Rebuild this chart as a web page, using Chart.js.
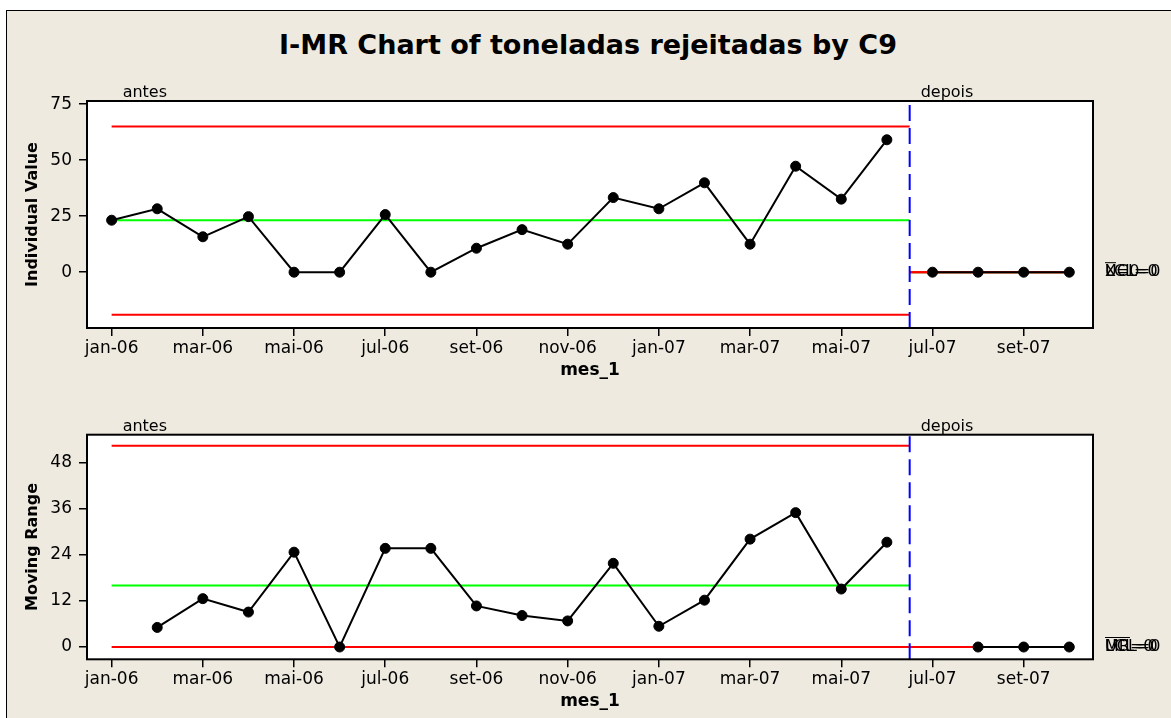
<!DOCTYPE html>
<html>
<head>
<meta charset="utf-8">
<script src="https://cdn.jsdelivr.net/npm/chart.js@4.4.0/dist/chart.umd.min.js"></script>
<style>
  html, body { margin: 0; padding: 0; background: #fff; width: 1171px; height: 718px; overflow: hidden; }
  #frame { position: absolute; left: 6px; top: 10px; width: 1170px; height: 712px; background: #eeeae0; border-left: 1px solid #000; border-top: 1px solid #000; }
  #title { position: absolute; left: 0; top: 29px; width: 1176px; text-align: center; font: bold 27px "DejaVu Sans", sans-serif; line-height: 32px; color: #000; }
  canvas { position: absolute; left: 0; }
  #topChart { top: 60px; }
  #mrChart { top: 400px; }
</style>
</head>
<body>
<div id="frame"></div>
<div id="title">I-MR Chart of toneladas rejeitadas by C9</div>
<canvas id="topChart" width="1171" height="330"></canvas>
<canvas id="mrChart" width="1171" height="318"></canvas>
<script>
// meses (eixo x)
const months = ['jan-06', 'fev-06', 'mar-06', 'abr-06', 'mai-06', 'jun-06', 'jul-06', 'ago-06',
    'set-06', 'out-06', 'nov-06', 'dez-06', 'jan-07', 'fev-07', 'mar-07', 'abr-07', 'mai-07',
    'jun-07', 'jul-07', 'ago-07', 'set-07', 'out-07'];
const tickIndex = [0, 2, 4, 6, 8, 10, 12, 14, 16, 18, 20];

// fases
const phases = ['antes', 'depois'];
const phaseStart = [0, 18];

// valores individuais
const iAntes = [23.2, 28.3, 15.8, 24.8, 0, 0, 25.7, 0, 10.7, 19.0, 12.5, 33.3, 28.3, 39.9, 12.5, 47.3, 32.6, 59.1];
const iDepois = [0, 0, 0, 0];

// amplitude movel
const mrAntes = [5.1, 12.6, 9.1, 24.7, 0, 25.7, 25.7, 10.7, 8.2, 6.8, 21.8, 5.4, 12.2, 28.1, 35.0, 15.1, 27.3];
const mrDepois = [0, 0, 0];

// limites [antes, depois]
const iUCL = [65.0, 0];
const iCL = [23.2, 0];
const iLCL = [-19.0, 0];
const mrUCL = [52.4, 0];
const mrCL = [16.0, 0];
const mrLCL = [0, 0];

const iTicks = [0, 25, 50, 75];
const mrTicks = [0, 12, 24, 36, 48];

Chart.defaults.font.family = "'DejaVu Sans', sans-serif";
Chart.defaults.color = '#000';

const FONT = "'DejaVu Sans', sans-serif";
const splitX = phaseStart[1] - 0.5;
const lastX = months.length - 1;

function seriesSet(values, start) {
    return {
        data: values.map((v, i) => ({ x: start + i, y: v })),
        borderColor: '#000',
        borderWidth: 2,
        pointRadius: 5,
        pointBackgroundColor: '#000',
        pointBorderColor: '#000',
        pointBorderWidth: 1,
        order: 0
    };
}

function limitSet(x0, x1, y, color) {
    return {
        data: [{ x: x0, y: y }, { x: x1, y: y }],
        borderColor: color,
        borderWidth: 2,
        pointRadius: 0,
        order: 2
    };
}

function splitSet(yMin, yMax) {
    return {
        data: [{ x: splitX, y: yMin }, { x: splitX, y: yMax }],
        borderColor: '#0000ff',
        borderWidth: 2,
        borderDash: [16, 7],
        pointRadius: 0,
        order: 1
    };
}

// fundo branco, moldura, rotulos das fases e dos limites
const annotPlugin = {
    id: 'annot',
    beforeDraw(chart) {
        const a = chart.chartArea;
        const ctx = chart.ctx;
        ctx.save();
        ctx.fillStyle = '#fff';
        ctx.fillRect(a.left, a.top, a.right - a.left, a.bottom - a.top);
        ctx.restore();
    },
    afterDraw(chart, args, opts) {
        const a = chart.chartArea;
        const ctx = chart.ctx;
        const xs = chart.scales.x;
        const ys = chart.scales.y;
        ctx.save();
        ctx.strokeStyle = '#000';
        ctx.lineWidth = 2;
        ctx.strokeRect(a.left, a.top, a.right - a.left, a.bottom - a.top);

        ctx.font = '16px ' + FONT;
        ctx.fillStyle = '#000';
        ctx.textBaseline = 'middle';
        ctx.textAlign = 'left';
        phases.forEach((p, k) => {
            const px = xs.getPixelForValue(k === 0 ? phaseStart[0] : splitX) + 11;
            ctx.fillText(p, px, a.top - 8);
        });

        // rotulos sobrepostos a direita (UCL, media, LCL da fase depois)
        const lx = a.right + 12;
        const ly = ys.getPixelForValue(opts.cl);
        ctx.fillText('UCL=' + opts.ucl, lx, ly);
        ctx.fillText('LCL=' + opts.lcl, lx, ly);
        ctx.fillText(opts.barText + '=' + opts.cl, lx, ly);
        const bw = ctx.measureText(opts.barText).width;
        ctx.lineWidth = 1;
        ctx.beginPath();
        ctx.moveTo(lx, ly - 9.5);
        ctx.lineTo(lx + bw, ly - 9.5);
        ctx.stroke();
        ctx.restore();
    }
};

function makeChart(id, cfg) {
    const ctx = document.getElementById(id).getContext('2d');
    return new Chart(ctx, {
        type: 'line',
        data: {
            datasets: [
                seriesSet(cfg.antes, cfg.antesStart),
                seriesSet(cfg.depois, cfg.depoisStart),
                splitSet(cfg.yMin, cfg.yMax),
                limitSet(0, splitX, cfg.ucl[0], '#ff0000'),
                limitSet(0, splitX, cfg.lcl[0], '#ff0000'),
                limitSet(0, splitX, cfg.cl[0], '#00ff00'),
                limitSet(splitX, lastX, cfg.ucl[1], '#ff0000'),
                limitSet(splitX, lastX, cfg.lcl[1], '#ff0000'),
                limitSet(splitX, lastX, cfg.cl[1], '#00ff00')
            ]
        },
        options: {
            responsive: false,
            animation: false,
            devicePixelRatio: 1,
            layout: { padding: { top: cfg.padTop, right: 78, bottom: 0, left: 0 } },
            plugins: {
                legend: { display: false },
                tooltip: { enabled: false },
                annot: { ucl: cfg.ucl[1], cl: cfg.cl[1], lcl: cfg.lcl[1], barText: cfg.barText }
            },
            scales: {
                x: {
                    type: 'linear',
                    min: -0.54,
                    max: 21.52,
                    afterBuildTicks: (scale) => { scale.ticks = tickIndex.map(v => ({ value: v })); },
                    afterFit: (scale) => { scale.height = cfg.xHeight; },
                    ticks: {
                        autoSkip: false,
                        maxRotation: 0,
                        padding: 2,
                        font: { size: 17 },
                        callback: (v) => months[v]
                    },
                    grid: { display: true, drawOnChartArea: false, drawTicks: true, tickLength: 8, color: '#000', lineWidth: 1.5 },
                    border: { display: false },
                    title: { display: true, text: 'mes_1', font: { size: 17, weight: 'bold' }, padding: { top: 0, bottom: cfg.xTitlePad } }
                },
                y: {
                    min: cfg.yMin,
                    max: cfg.yMax,
                    afterBuildTicks: (scale) => { scale.ticks = cfg.ticks.map(v => ({ value: v })); },
                    afterFit: (scale) => { scale.width = 87; },
                    ticks: { padding: 7, font: { size: 17 } },
                    grid: { display: true, drawOnChartArea: false, drawTicks: true, tickLength: 8, color: '#000', lineWidth: 1.5 },
                    border: { display: false },
                    title: { display: true, text: cfg.yTitle, font: { size: 16, weight: 'bold' }, padding: { top: 23.4, bottom: 0 } }
                }
            }
        },
        plugins: [annotPlugin]
    });
}

makeChart('topChart', {
    antes: iAntes, antesStart: phaseStart[0],
    depois: iDepois, depoisStart: phaseStart[1],
    ucl: iUCL, cl: iCL, lcl: iLCL,
    yMin: -24.9, yMax: 76.4, ticks: iTicks,
    yTitle: 'Individual Value', barText: 'X',
    padTop: 41, xHeight: 62, xTitlePad: 9
});

makeChart('mrChart', {
    antes: mrAntes, antesStart: phaseStart[0] + 1,
    depois: mrDepois, depoisStart: phaseStart[1] + 1,
    ucl: mrUCL, cl: mrCL, lcl: mrLCL,
    yMin: -3.2, yMax: 55.3, ticks: mrTicks,
    yTitle: 'Moving Range', barText: 'MR',
    padTop: 34.7, xHeight: 58.7, xTitlePad: 5.8
});
</script>
</body>
</html>
